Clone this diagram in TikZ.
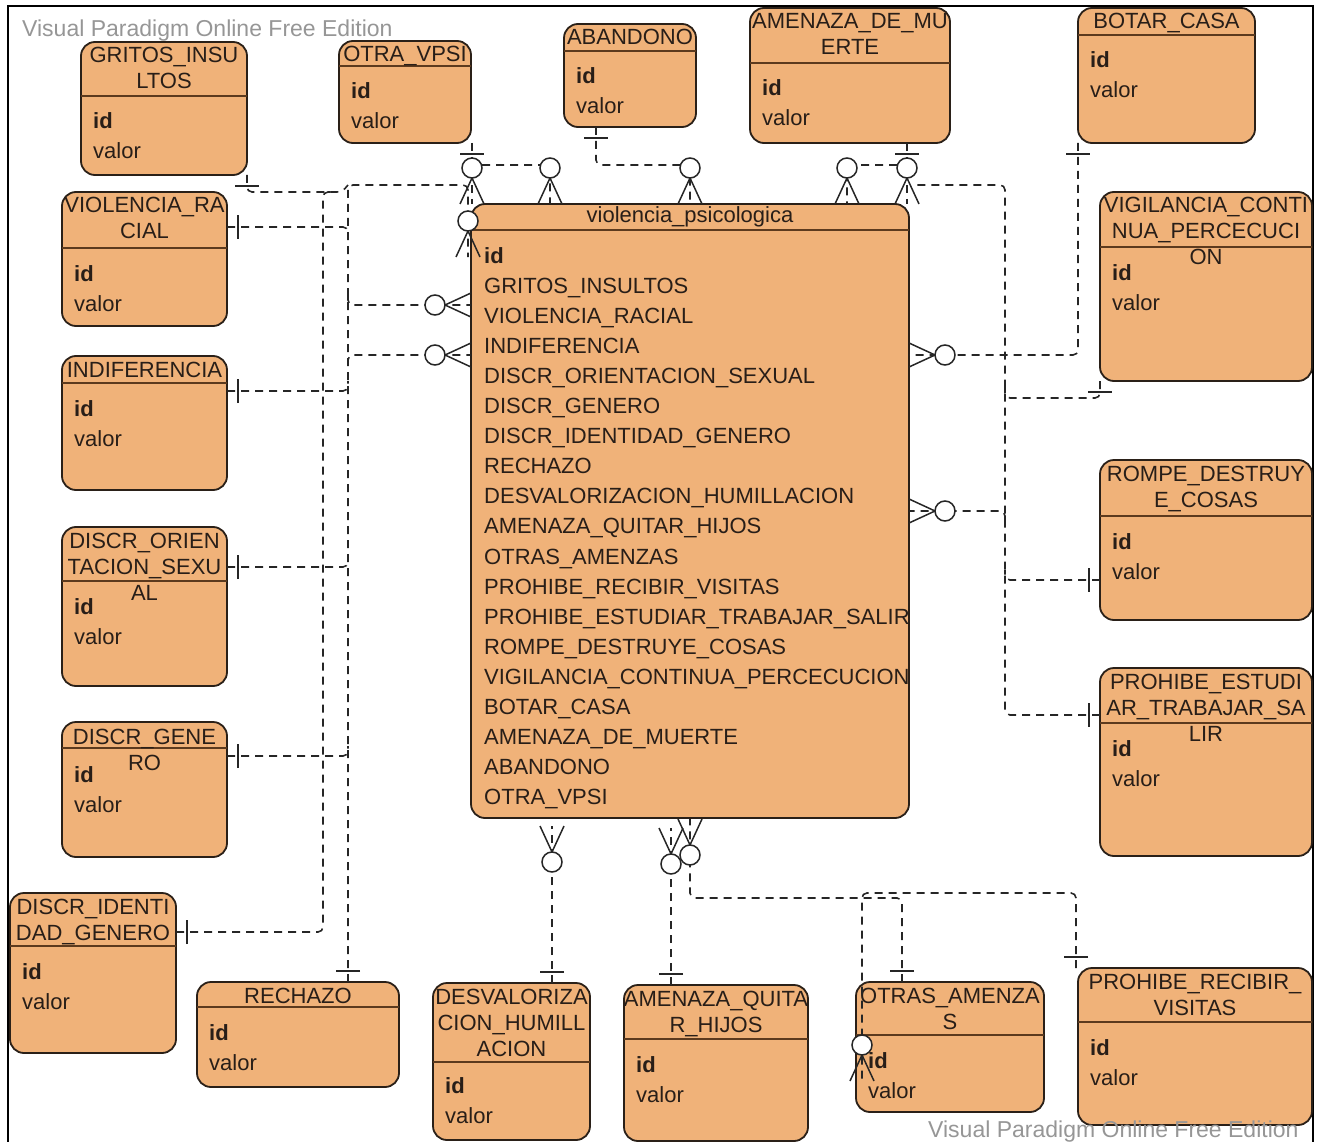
\documentclass[tikz,border=0pt]{standalone}
\usepackage{fontspec}
\setmainfont{Liberation Sans}
\usetikzlibrary{calc, decorations.markings}

\definecolor{tablefill}{RGB}{240,178,121}
\definecolor{tableline}{RGB}{42,32,24}
\definecolor{headline}{RGB}{92,58,30}
\definecolor{textdark}{RGB}{40,30,24}
\definecolor{stampgray}{RGB}{150,150,150}

\tikzset{
  table/.style={draw=tableline, fill=tablefill, line width=1.8pt, rounded corners=14pt, inner sep=0pt, outer sep=0pt},
  headsep/.style={draw=headline, line width=2.4pt},
  head/.style={anchor=base, align=center, inner sep=0pt, text=textdark, font=\fontsize{22}{26}\selectfont},
  attr/.style={anchor=base west, align=left, inner sep=0pt, text=textdark, font=\fontsize{22}{30}\selectfont},
  rel/.style={draw=black!85, line width=1.6pt, dash pattern=on 8pt off 6pt, rounded corners=5pt},
  one/.style={postaction={decorate, decoration={markings,
    mark=at position 11pt with {\draw [solid, sharp corners, line width=2.4pt] (0pt,-12pt) -- (0pt,12pt);}}}},
  many/.style={postaction={decorate, decoration={markings,
    mark=at position 1 with {\draw [solid, sharp corners, line width=1.5pt] (0pt,12pt) -- (-26pt,0pt) -- (0pt,-12pt);
      \draw [solid, line width=1.5pt, fill=white] (-36pt,0pt) circle (10pt);}}}},
  stamp/.style={anchor=base west, inner sep=0pt, text=stampgray, font=\fontsize{23}{28}\selectfont}
}

\begin{document}
\begin{tikzpicture}[x=1pt, y=-1pt]
  \useasboundingbox (0,0) rectangle (1320,1142);
  % Draw frame
  \draw [line width=2pt] (8,1142) -- (8,6) -- (1313,6) -- (1313,1142);

  % Draw main table (text nodes sit on the baseline of their last line)
  \node [table, minimum width=438, minimum height=614] (central) at (690, 511) {};
  \draw [headsep] (central.west |- 0,230) -- (central.east |- 0,230);
  \node [head] (central-h) at (690, 223) {violencia\_psicologica};
  \node [attr, font=\fontsize{22}{30.1}\selectfont] (central-a) at (484, 804.8) {\textbf{id}\\GRITOS\_INSULTOS\\VIOLENCIA\_RACIAL\\INDIFERENCIA\\DISCR\_ORIENTACION\_SEXUAL\\DISCR\_GENERO\\DISCR\_IDENTIDAD\_GENERO\\RECHAZO\\DESVALORIZACION\_HUMILLACION\\AMENAZA\_QUITAR\_HIJOS\\OTRAS\_AMENZAS\\PROHIBE\_RECIBIR\_VISITAS\\PROHIBE\_ESTUDIAR\_TRABAJAR\_SALIR\\ROMPE\_DESTRUYE\_COSAS\\VIGILANCIA\_CONTINUA\_PERCECUCION\\BOTAR\_CASA\\AMENAZA\_DE\_MUERTE\\ABANDONO\\OTRA\_VPSI};

  % Draw lookup tables (top row)
  \node [table, minimum width=166, minimum height=133] (gritos) at (164, 108.5) {};
  \draw [headsep] (gritos.west |- 0,96) -- (gritos.east |- 0,96);
  \node [head] (gritos-h) at (164, 89) {GRITOS\_INSU\\LTOS};
  \node [attr] (gritos-a) at (93, 159) {\textbf{id}\\valor};

  \node [table, minimum width=132, minimum height=102] (otra) at (405, 92) {};
  \draw [headsep] (otra.west |- 0,66) -- (otra.east |- 0,66);
  \node [head] (otra-h) at (405, 62) {OTRA\_VPSI};
  \node [attr] (otra-a) at (351, 129) {\textbf{id}\\valor};

  \node [table, minimum width=132, minimum height=103] (aband) at (630, 75.5) {};
  \draw [headsep] (aband.west |- 0,51) -- (aband.east |- 0,51);
  \node [head] (aband-h) at (630, 45) {ABANDONO};
  \node [attr] (aband-a) at (576, 114) {\textbf{id}\\valor};

  \node [table, minimum width=200, minimum height=135] (muerte) at (850, 75.5) {};
  \draw [headsep] (muerte.west |- 0,63) -- (muerte.east |- 0,63);
  \node [head] (muerte-h) at (850, 55) {AMENAZA\_DE\_MU\\ERTE};
  \node [attr] (muerte-a) at (762, 126) {\textbf{id}\\valor};

  \node [table, minimum width=177, minimum height=135] (botar) at (1166.5, 75.5) {};
  \draw [headsep] (botar.west |- 0,35) -- (botar.east |- 0,35);
  \node [head] (botar-h) at (1166.5, 29) {BOTAR\_CASA};
  \node [attr] (botar-a) at (1090, 98) {\textbf{id}\\valor};

  % Draw lookup tables (right column)
  \node [table, minimum width=212, minimum height=189] (vigil) at (1206, 286.5) {};
  \draw [headsep] (vigil.west |- 0,247) -- (vigil.east |- 0,247);
  \node [head] (vigil-h) at (1206, 265) {VIGILANCIA\_CONTI\\NUA\_PERCECUCI\\ON};
  \node [attr] (vigil-a) at (1112, 310) {\textbf{id}\\valor};

  \node [table, minimum width=212, minimum height=160] (rompe) at (1206, 540) {};
  \draw [headsep] (rompe.west |- 0,516) -- (rompe.east |- 0,516);
  \node [head] (rompe-h) at (1206, 507) {ROMPE\_DESTRUY\\E\_COSAS};
  \node [attr] (rompe-a) at (1112, 579) {\textbf{id}\\valor};

  \node [table, minimum width=212, minimum height=188] (estud) at (1206, 762) {};
  \draw [headsep] (estud.west |- 0,723) -- (estud.east |- 0,723);
  \node [head] (estud-h) at (1206, 741) {PROHIBE\_ESTUDI\\AR\_TRABAJAR\_SA\\LIR};
  \node [attr] (estud-a) at (1112, 786) {\textbf{id}\\valor};

  % Draw lookup tables (bottom row)
  \node [table, minimum width=234, minimum height=157] (visit) at (1195, 1046.5) {};
  \draw [headsep] (visit.west |- 0,1022) -- (visit.east |- 0,1022);
  \node [head] (visit-h) at (1195, 1015) {PROHIBE\_RECIBIR\_\\VISITAS};
  \node [attr] (visit-a) at (1090, 1085) {\textbf{id}\\valor};

  \node [table, minimum width=188, minimum height=130] (otras) at (950, 1047) {};
  \draw [headsep] (otras.west |- 0,1035) -- (otras.east |- 0,1035);
  \node [head] (otras-h) at (950, 1029) {OTRAS\_AMENZA\\S};
  \node [attr] (otras-a) at (868, 1098) {\textbf{id}\\valor};

  \node [table, minimum width=184, minimum height=156] (hijos) at (716, 1063) {};
  \draw [headsep] (hijos.west |- 0,1039) -- (hijos.east |- 0,1039);
  \node [head] (hijos-h) at (716, 1032) {AMENAZA\_QUITA\\R\_HIJOS};
  \node [attr] (hijos-a) at (636, 1102) {\textbf{id}\\valor};

  \node [table, minimum width=157, minimum height=157] (desval) at (511.5, 1061.5) {};
  \draw [headsep] (desval.west |- 0,1062) -- (desval.east |- 0,1062);
  \node [head] (desval-h) at (511.5, 1056) {DESVALORIZA\\CION\_HUMILL\\ACION};
  \node [attr] (desval-a) at (445, 1123) {\textbf{id}\\valor};

  \node [table, minimum width=202, minimum height=105] (rech) at (298, 1034.5) {};
  \draw [headsep] (rech.west |- 0,1007) -- (rech.east |- 0,1007);
  \node [head] (rech-h) at (298, 1003) {RECHAZO};
  \node [attr] (rech-a) at (209, 1070) {\textbf{id}\\valor};

  % Draw lookup tables (left column)
  \node [table, minimum width=166, minimum height=160] (ident) at (93, 973) {};
  \draw [headsep] (ident.west |- 0,946) -- (ident.east |- 0,946);
  \node [head] (ident-h) at (93, 940) {DISCR\_IDENTI\\DAD\_GENERO};
  \node [attr] (ident-a) at (22, 1009) {\textbf{id}\\valor};

  \node [table, minimum width=165, minimum height=135] (genero) at (144.5, 789.5) {};
  \draw [headsep] (genero.west |- 0,748) -- (genero.east |- 0,748);
  \node [head] (genero-h) at (144.5, 770) {DISCR\_GENE\\RO};
  \node [attr] (genero-a) at (74, 812) {\textbf{id}\\valor};

  \node [table, minimum width=165, minimum height=159] (orient) at (144.5, 606.5) {};
  \draw [headsep] (orient.west |- 0,581) -- (orient.east |- 0,581);
  \node [head] (orient-h) at (144.5, 600) {DISCR\_ORIEN\\TACION\_SEXU\\AL};
  \node [attr] (orient-a) at (74, 644) {\textbf{id}\\valor};

  \node [table, minimum width=165, minimum height=134] (indif) at (144.5, 423) {};
  \draw [headsep] (indif.west |- 0,383) -- (indif.east |- 0,383);
  \node [head] (indif-h) at (144.5, 377) {INDIFERENCIA};
  \node [attr] (indif-a) at (74, 446) {\textbf{id}\\valor};

  \node [table, minimum width=165, minimum height=134] (racial) at (144.5, 259) {};
  \draw [headsep] (racial.west |- 0,248) -- (racial.east |- 0,248);
  \node [head] (racial-h) at (144.5, 239) {VIOLENCIA\_RA\\CIAL};
  \node [attr] (racial-a) at (74, 311) {\textbf{id}\\valor};

  % Ports on the lookup tables
  \coordinate (p-gritos) at (247, 175);
  \coordinate (p-racial) at (227, 227);
  \coordinate (p-indif) at (227, 391);
  \coordinate (p-orient) at (227, 567);
  \coordinate (p-genero) at (227, 756);
  \coordinate (p-ident) at (176, 932);
  \coordinate (p-rech) at (348, 982);
  \coordinate (p-otra) at (472, 143);
  \coordinate (p-aband) at (596, 127);
  \coordinate (p-muerte) at (907, 143);
  \coordinate (p-botar) at (1078, 143);
  \coordinate (p-vigil) at (1100, 381);
  \coordinate (p-rompe) at (1100, 580);
  \coordinate (p-estud) at (1100, 715);
  \coordinate (p-visit) at (1076, 968);
  \coordinate (p-otras) at (902, 982);
  \coordinate (p-hijos) at (671, 985);
  \coordinate (p-desval) at (552, 983);
  % Ends on violencia_psicologica
  \coordinate (c-nw) at (468, 257);
  \coordinate (c-n1) at (472, 204);
  \coordinate (c-n2) at (550, 204);
  \coordinate (c-n3) at (690, 204);
  \coordinate (c-n4) at (847, 204);
  \coordinate (c-n5) at (907, 204);
  \coordinate (c-ne) at (913, 185);
  \coordinate (c-w1) at (471, 305);
  \coordinate (c-w2) at (471, 355);
  \coordinate (c-e1) at (909, 355);
  \coordinate (c-e2) at (909, 511);
  \coordinate (c-s1) at (552, 826);
  \coordinate (c-s2) at (671, 828);
  \coordinate (c-s3) at (690, 819);
  \coordinate (o-nw) at (862, 1081);
  % Bends of the routes
  \coordinate (bus-l) at (323, 192);
  \coordinate (bus-m) at (348, 185);
  \coordinate (bus-r) at (1005, 185);
  \coordinate (jog) at (342, 192);
  \coordinate (row-t) at (0, 165);
  \coordinate (row-b) at (0, 898);
  \coordinate (row-v) at (0, 893);

  % Draw relations on the left
  \draw [rel, one, many] (p-rech) -- (bus-m) -| (c-nw);
  \draw [rel, one] (p-gritos) |- (jog) -- (bus-m);
  \draw [rel, one] (p-ident) -| (bus-l) -- ++(10,0);
  \draw [rel, one] (p-racial) -- (bus-m |- p-racial) -- ++(0,10);
  \draw [rel, many] ($(bus-m |- c-w1)+(0,-10)$) -- (bus-m |- c-w1) -- (c-w1);
  \draw [rel, one] (p-indif) -- (bus-m |- p-indif) -- ++(0,-10);
  \draw [rel, many] ($(bus-m |- c-w2)+(0,10)$) -- (bus-m |- c-w2) -- (c-w2);
  \draw [rel, one] (p-orient) -- (bus-m |- p-orient) -- ++(0,-10);
  \draw [rel, one] (p-genero) -- (bus-m |- p-genero) -- ++(0,-10);
  % Draw relations on top
  \draw [rel, one, many] (p-otra) -- (c-n1);
  \draw [rel, many] ($(p-otra |- row-t)+(10,0)$) -| (c-n2);
  \draw [rel, one, many] (p-aband) |- (c-n3 |- row-t) -- (c-n3);
  \draw [rel, one, many] (p-muerte) -- (c-n5);
  \draw [rel, many] ($(p-muerte |- row-t)+(-10,0)$) -| (c-n4);
  % Draw relations on the right
  \draw [rel, one] (p-estud) -| (bus-r) -- (c-ne);
  \draw [rel, one, many] (p-botar) |- (c-e1);
  \draw [rel, one] (p-vigil) -- ++(0,17) -| ($(bus-r |- p-vigil)+(0,6)$);
  \draw [rel, one] (p-rompe) -- (bus-r |- p-rompe) -- ++(0,-10);
  \draw [rel, many] ($(bus-r |- c-e2)+(0,10)$) -- (bus-r |- c-e2) -- (c-e2);
  % Draw relations at the bottom
  \draw [rel, one, many] (p-desval) -- (c-s1);
  \draw [rel, one, many] (p-hijos) -- (c-s2);
  \draw [rel, one, many] (p-otras) |- (c-s3 |- row-b) -- (c-s3);
  \draw [rel, one, many] (p-visit) |- (o-nw |- row-v) -- (o-nw);

  % Add edition stamps
  \node [stamp] (stamp-t) at (22, 37) {Visual Paradigm Online Free Edition};
  \node [stamp] (stamp-b) at (928, 1137) {Visual Paradigm Online Free Edition};
\end{tikzpicture}
\end{document}
